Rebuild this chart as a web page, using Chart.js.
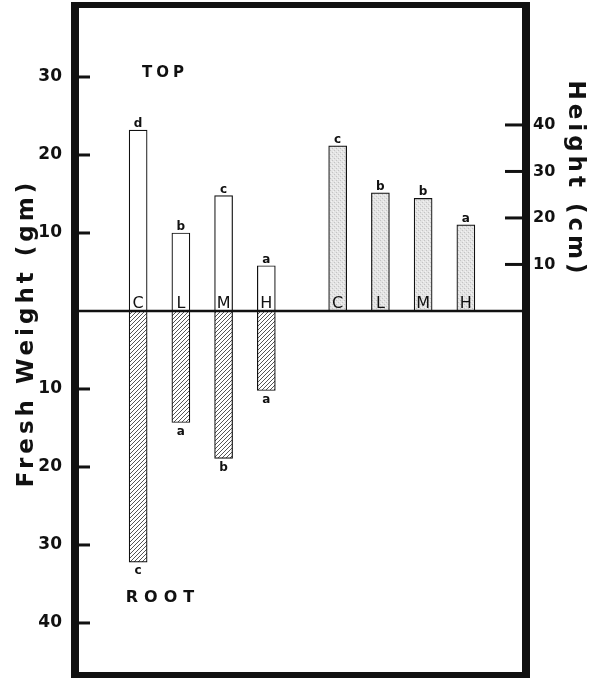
<!DOCTYPE html>
<html>
<head>
<meta charset="utf-8">
<script src="https://cdn.jsdelivr.net/npm/chart.js@4.4.1/dist/chart.umd.min.js"></script>
<style>
  html, body { margin: 0; padding: 0; background: #fff; }
  #wrap { width: 599px; height: 680px; }
</style>
</head>
<body>
<div id="wrap"><canvas id="chart" width="599" height="680"></canvas></div>
<script>
const treatments = ["C", "L", "M", "H"];
const topWeight = [23.2, 10, 14.8, 5.8];
const rootWeight = [32.2, 14.3, 18.9, 10.2];
const plantHeight = [35.5, 25.4, 24.2, 18.5];
const topLetters = ["d", "b", "c", "a"];
const rootLetters = ["c", "a", "b", "a"];
const heightLetters = ["c", "b", "b", "a"];
const weightTicks = [-40, -30, -20, -10, 10, 20, 30];
const heightTicks = [10, 20, 30, 40];

// where each group of four bars starts along the x scale
const weightStart = 0.95;
const heightStart = 5.62;
const ink = '#111111';

function slot(start, i) {
    return start + i;
}

function hatchPattern() {
    const c = document.createElement('canvas');
    c.width = 4; c.height = 4;
    const g = c.getContext('2d');
    g.fillStyle = '#fff';
    g.fillRect(0, 0, 4, 4);
    g.strokeStyle = '#555555';
    g.lineWidth = 1;
    g.beginPath();
    g.moveTo(-1, 5); g.lineTo(5, -1);
    g.moveTo(-1, 1); g.lineTo(1, -1);
    g.moveTo(3, 5); g.lineTo(5, 3);
    g.stroke();
    return g.createPattern(c, 'repeat');
}

function stipplePattern() {
    const c = document.createElement('canvas');
    c.width = 4; c.height = 4;
    const g = c.getContext('2d');
    g.fillStyle = '#e4e4e4';
    g.fillRect(0, 0, 4, 4);
    g.fillStyle = '#c4c4c4';
    g.fillRect(0, 0, 1, 1);
    g.fillRect(2, 2, 1, 1);
    g.fillStyle = '#f2f2f2';
    g.fillRect(1, 3, 1, 1);
    g.fillRect(3, 1, 1, 1);
    return g.createPattern(c, 'repeat');
}

function spacedText(ctx, text, x, y, spacing) {
    ctx.letterSpacing = spacing + 'px';
    ctx.fillText(text, x + spacing / 2, y);
    ctx.letterSpacing = '0px';
}

const decor = {
    id: 'decor',
    afterDatasetsDraw(chart) {
        const {ctx, chartArea: a, scales} = chart;
        const y0 = scales.y.getPixelForValue(0);
        ctx.save();
        ctx.strokeStyle = ink;
        ctx.lineCap = 'butt';

        const line = (x1, y1, x2, y2) => {
            ctx.beginPath(); ctx.moveTo(x1, y1); ctx.lineTo(x2, y2); ctx.stroke();
        };

        ctx.lineWidth = 2.5;
        line(a.left, y0, a.right, y0);

        ctx.lineWidth = 3;
        weightTicks.forEach(v => {
            const y = scales.y.getPixelForValue(v);
            line(a.left, y, a.left + 15, y);
        });
        heightTicks.forEach(v => {
            const y = scales.y2.getPixelForValue(v);
            line(a.right - 21, y, a.right, y);
        });

        // frame
        ctx.lineWidth = 6;
        line(a.left - 4, a.top, a.right + 4, a.top);
        line(a.left - 4, a.bottom, a.right + 4, a.bottom);
        ctx.lineWidth = 8;
        line(a.left, a.top, a.left, a.bottom);
        line(a.right, a.top, a.right, a.bottom);

        ctx.fillStyle = ink;
        ctx.textAlign = 'center';

        // treatment letters inside bars
        ctx.font = '16px "DejaVu Sans"';
        ctx.textBaseline = 'alphabetic';
        treatments.forEach((t, i) => {
            ctx.fillText(t, scales.x.getPixelForValue(slot(weightStart, i)), y0 - 3);
            ctx.fillText(t, scales.x.getPixelForValue(slot(heightStart, i)), y0 - 3);
        });

        // significance letters
        ctx.font = 'bold 12px "DejaVu Sans"';
        topWeight.forEach((v, i) => {
            ctx.textBaseline = 'alphabetic';
            ctx.fillText(topLetters[i], scales.x.getPixelForValue(slot(weightStart, i)), scales.y.getPixelForValue(v) - 3);
        });
        plantHeight.forEach((v, i) => {
            ctx.textBaseline = 'alphabetic';
            ctx.fillText(heightLetters[i], scales.x.getPixelForValue(slot(heightStart, i)), scales.y2.getPixelForValue(v) - 3);
        });
        rootWeight.forEach((v, i) => {
            ctx.textBaseline = 'top';
            ctx.fillText(rootLetters[i], scales.x.getPixelForValue(slot(weightStart, i)), scales.y.getPixelForValue(-v) + 3);
        });

        // panel labels
        ctx.textBaseline = 'middle';
        ctx.font = 'bold 15px "DejaVu Sans"';
        spacedText(ctx, 'TOP', 163, 73, 4);
        ctx.font = 'bold 16px "DejaVu Sans"';
        spacedText(ctx, 'ROOT', 160, 598, 6);

        // axis titles
        ctx.font = 'bold 23px "DejaVu Sans"';
        ctx.save();
        ctx.translate(27, 335);
        ctx.rotate(-Math.PI / 2);
        spacedText(ctx, 'Fresh Weight (gm)', 0, 0, 4);
        ctx.restore();
        ctx.save();
        ctx.translate(575, 177);
        ctx.rotate(Math.PI / 2);
        spacedText(ctx, 'Height (cm)', 0, 0, 4);
        ctx.restore();

        ctx.restore();
    }
};

const barStyle = {
    barThickness: 18,
    grouped: false,
    borderColor: ink,
    borderWidth: 1.2
};

function fixWidth(w) {
    return scale => {
        scale.width = w;
        scale.paddingTop = 0;
        scale.paddingBottom = 0;
    };
}

const ctx = document.getElementById('chart').getContext('2d');
new Chart(ctx, {
    type: 'bar',
    data: {
        datasets: [
            Object.assign({
                label: 'Top',
                data: topWeight.map((v, i) => ({x: slot(weightStart, i), y: v})),
                backgroundColor: '#ffffff',
                yAxisID: 'y'
            }, barStyle),
            Object.assign({
                label: 'Root',
                data: rootWeight.map((v, i) => ({x: slot(weightStart, i), y: -v})),
                backgroundColor: hatchPattern(),
                yAxisID: 'y'
            }, barStyle),
            Object.assign({
                label: 'Height',
                data: plantHeight.map((v, i) => ({x: slot(heightStart, i), y: v})),
                backgroundColor: stipplePattern(),
                yAxisID: 'y2'
            }, barStyle)
        ]
    },
    options: {
        responsive: false,
        animation: false,
        devicePixelRatio: 1,
        layout: {padding: {top: 5, bottom: 5, left: 0, right: 0}},
        plugins: {
            legend: {display: false},
            tooltip: {enabled: false}
        },
        scales: {
            x: {
                type: 'linear',
                display: false,
                min: 0,
                max: 9.5
            },
            y: {
                position: 'left',
                min: -46.67,
                max: 39.23,
                grid: {display: false, drawTicks: false},
                border: {display: false},
                afterBuildTicks: scale => {
                    scale.ticks = weightTicks.map(v => ({value: v}));
                },
                afterFit: fixWidth(75),
                ticks: {
                    padding: 13,
                    color: ink,
                    font: {family: 'DejaVu Sans', size: 17, weight: 'bold'},
                    callback: v => Math.abs(v)
                }
            },
            y2: {
                position: 'right',
                min: -78.3,
                max: 65.8,
                grid: {display: false, drawTicks: false},
                border: {display: false},
                afterBuildTicks: scale => {
                    scale.ticks = heightTicks.map(v => ({value: v}));
                },
                afterFit: fixWidth(73),
                ticks: {
                    padding: 7,
                    color: ink,
                    font: {family: 'DejaVu Sans', size: 16, weight: 'bold'}
                }
            }
        }
    },
    plugins: [decor]
});
</script>
</body>
</html>
